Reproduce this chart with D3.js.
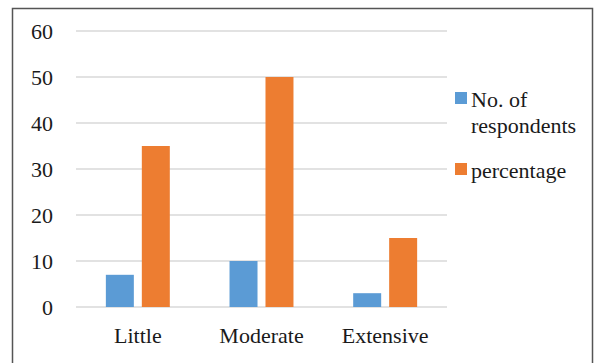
<!DOCTYPE html>
<html>
<head>
<meta charset="utf-8">
<script src="https://cdn.jsdelivr.net/npm/d3@7"></script>
</head>
<body style="margin:0">
<svg id="chart" width="596" height="363"></svg>
<script>
const categories = ["Little", "Moderate", "Extensive"];
const respondents = [7, 10, 3];
const percentage = [35, 50, 15];
const seriesNames = ["No. of respondents", "percentage"];
const yTicks = [0, 10, 20, 30, 40, 50, 60];

const colors = ["#5b9bd5", "#ed7d31"];
const INK = "#1a1a1a";
const svg = d3.select("#chart");

// outer frame
svg.append("rect")
  .attr("x", 12.5).attr("y", 8.5)
  .attr("width", 580).attr("height", 362)
  .attr("fill", "none").attr("stroke", "#555").attr("stroke-width", 1.5);

const plot = { left: 76, right: 447, top: 31, bottom: 307 };

const x = d3.scaleBand().domain(categories)
  .range([plot.left, plot.right]).paddingInner(0).paddingOuter(0);
const y = d3.scaleLinear().domain([0, 60]).range([plot.bottom, plot.top]);

// gridlines
svg.append("g").selectAll("line").data(yTicks).join("line")
  .attr("x1", plot.left).attr("x2", plot.right)
  .attr("y1", d => y(d)).attr("y2", d => y(d))
  .attr("stroke", "#d9d9d9").attr("stroke-width", 1.5);

// y axis labels (serif text inherited from the page default)
const yAxis = d3.axisLeft(y).tickValues(yTicks).tickSize(0).tickPadding(0);
const gy = svg.append("g").attr("transform", "translate(53,0)").call(yAxis)
  .attr("font-family", null).attr("font-size", null);
gy.select(".domain").remove();
gy.selectAll("text").attr("font-size", 22).attr("fill", INK);

// x axis labels
const xAxis = d3.axisBottom(x).tickSize(0).tickPadding(0);
const gx = svg.append("g").attr("transform", "translate(0,327)").call(xAxis)
  .attr("font-family", null).attr("font-size", null);
gx.select(".domain").remove();
gx.selectAll("text").attr("font-size", 22).attr("fill", INK);

// bars within each category
const inner = d3.scaleBand().domain([0, 1])
  .range([0, x.bandwidth()]).paddingInner(0.222).paddingOuter(0.83);

const rows = categories.map((c, i) => ({ cat: c, vals: [respondents[i], percentage[i]] }));
svg.append("g").selectAll("g").data(rows).join("g")
  .attr("transform", d => `translate(${x(d.cat)},0)`)
  .selectAll("rect").data(d => d.vals.map((v, k) => ({ v, k }))).join("rect")
  .attr("x", d => inner(d.k))
  .attr("width", inner.bandwidth())
  .attr("y", d => y(d.v))
  .attr("height", d => y(0) - y(d.v))
  .attr("fill", d => colors[d.k]);

// legend
const legend = svg.append("g");
const legendItems = [
  { lines: ["No. of", "respondents"], top: 92 },
  { lines: ["percentage"], top: 163 }
];
legendItems.forEach((item, i) => {
  legend.append("rect").attr("x", 455).attr("y", item.top)
    .attr("width", 12).attr("height", 12).attr("fill", colors[i]);
  item.lines.forEach((ln, j) => {
    legend.append("text")
      .attr("x", 471).attr("y", item.top + 15 + j * 26)
      .attr("font-size", 22).attr("fill", INK)
      .text(ln);
  });
});
</script>
</body>
</html>
